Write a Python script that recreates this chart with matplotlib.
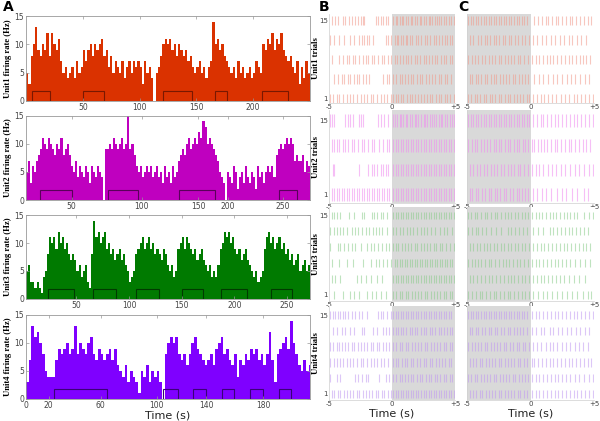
import matplotlib
matplotlib.use('Agg')
import matplotlib.pyplot as plt
from matplotlib.patches import Rectangle
import numpy as np

# ---------------- data ----------------
BIN = 2  # seconds per histogram bin

unit1_rate = [5, 3, 8, 10, 13, 9, 8, 10, 9, 12, 8, 12, 10, 9, 11, 7, 5, 6, 4, 5,
              6, 4, 7, 5, 6, 9, 7, 9, 10, 8, 10, 9, 10, 11, 8, 9, 6, 8, 5, 7,
              6, 5, 7, 4, 6, 7, 5, 7, 6, 7, 6, 3, 7, 5, 6, 4, 0, 5, 6, 8,
              10, 11, 10, 11, 9, 10, 8, 10, 9, 8, 9, 7, 8, 6, 5, 6, 7, 5, 6, 4,
              6, 7, 14, 10, 11, 9, 10, 8, 7, 6, 5, 6, 4, 7, 5, 6, 4, 5, 6, 4,
              5, 7, 6, 5, 10, 9, 11, 10, 12, 9, 11, 10, 12, 9, 8, 7, 8, 6, 5, 7,
              3, 6, 4, 7, 5]
unit2_rate = [5, 7, 3, 6, 5, 7, 8, 9, 11, 10, 9, 11, 10, 9, 8, 10, 9, 11, 8, 9,
              10, 8, 6, 5, 7, 4, 6, 5, 4, 6, 5, 3, 6, 5, 4, 6, 5, 4, 0, 9,
              9, 10, 9, 11, 10, 9, 10, 11, 9, 10, 15, 9, 10, 8, 6, 5, 6, 4, 5, 6,
              5, 6, 4, 5, 6, 4, 5, 3, 6, 4, 5, 3, 6, 4, 5, 7, 8, 9, 8, 10,
              11, 9, 10, 11, 10, 12, 11, 14, 13, 10, 11, 10, 9, 8, 7, 5, 4, 3, 0, 5,
              4, 3, 6, 5, 2, 4, 5, 3, 6, 4, 3, 5, 4, 2, 6, 4, 5, 3, 5, 6,
              5, 6, 4, 8, 9, 10, 9, 10, 11, 10, 11, 10, 7, 8, 7, 7, 8, 5, 7, 6]
unit3_rate = [6, 5, 6, 3, 3, 2, 3, 2, 1, 4, 5, 8, 11, 10, 11, 9, 12, 10, 11, 9,
              10, 8, 7, 8, 7, 5, 6, 4, 5, 6, 3, 2, 8, 14, 11, 12, 10, 11, 12, 9,
              10, 8, 9, 7, 8, 9, 7, 8, 6, 5, 3, 4, 5, 8, 9, 10, 11, 9, 10, 11,
              9, 10, 8, 9, 8, 7, 9, 8, 6, 5, 6, 4, 5, 9, 10, 11, 9, 11, 10, 9,
              8, 9, 7, 8, 9, 7, 6, 5, 6, 4, 5, 4, 6, 9, 10, 12, 11, 12, 10, 11,
              9, 8, 9, 7, 8, 9, 7, 6, 5, 4, 5, 3, 4, 5, 9, 11, 12, 10, 11, 9,
              10, 11, 9, 10, 8, 9, 7, 8, 6, 7, 8, 5, 6, 7, 5, 6]
unit4_rate = [3, 7, 13, 11, 12, 10, 8, 5, 4, 4, 4, 7, 9, 8, 9, 10, 8, 9, 13, 8,
              10, 9, 8, 10, 11, 8, 7, 9, 8, 7, 8, 9, 7, 9, 6, 5, 4, 6, 3, 5,
              4, 3, 1, 5, 4, 6, 3, 5, 4, 5, 3, 0, 8, 10, 11, 10, 11, 8, 7, 8,
              6, 8, 10, 11, 9, 8, 7, 6, 7, 8, 6, 9, 10, 11, 8, 9, 7, 6, 8, 4,
              7, 6, 8, 7, 9, 8, 9, 7, 8, 6, 8, 12, 7, 3, 8, 9, 10, 11, 9, 14,
              10, 8, 6, 5, 7, 5, 6]

# stimulus windows (start, end) in seconds
unit1_windows = [(5, 21), (50, 69), (121, 146), (166, 177), (208, 231)]
unit2_windows = [(14, 45), (81, 110), (151, 186), (249, 267)]
unit3_windows = [(23, 48), (66, 88), (107, 128), (150, 170), (187, 212), (235, 255)]
unit4_windows = [(21, 61), (103, 114), (125, 135), (147, 156), (168, 178), (190, 199)]

# x tick positions / labels for the histograms
unit1_ticks, unit1_ticklabels = [50, 100, 150, 200], ['50', '100', '150', '200']
unit2_ticks, unit2_ticklabels = [45, 114, 170, 199, 253], ['50', '100', '150', '200', '250']
unit3_ticks, unit3_ticklabels = [50, 100, 150, 200, 250], ['50', '100', '150', '200', '250']
unit4_ticks, unit4_ticklabels = [0, 17, 56, 98, 135, 178], ['0', '20', '60', '100', '140', '180']
hist_xlims = [(0, 250), (0, 280), (2, 272), (0, 213)]

# raster rows (trial positions) and spike times (s, relative to onset)
unit1_rows = [15, 11.5, 8, 4.5, 1]
unit2_rows = [15, 10.33, 5.67, 1]
unit3_rows = [15, 12.2, 9.4, 6.6, 3.8, 1]
unit4_rows = [15, 12.2, 9.4, 6.6, 3.8, 1]

unit1_B = [
 [-4.8,-4.5,-4.3,-3.9,-3.7,-3.4,-3.2,-2.9,-2.7,-2.5,-2.3,-2.2,-1.3,-1.1,-0.9,-0.7,-0.5,-0.3,0.1,0.3,0.4,0.6,0.8,0.9,1.1,1.3,1.5,1.6,1.8,2.0,2.2,2.3,2.5,2.7,2.9,3.0,3.2,3.4,3.6,3.7,3.9,4.1,4.3,4.5,4.7,4.9],
 [-4.9,-4.6,-4.2,-3.8,-3.3,-3.0,-2.6,-2.4,-2.2,-2.0,-1.8,-1.5,-0.5,-0.3,-0.1,0.2,0.4,0.5,0.7,0.9,1.1,1.2,1.4,1.6,1.9,2.1,2.3,2.6,2.8,3.0,3.3,3.5,3.7,4.0,4.2,4.4,4.6,4.8],
 [-4.8,-4.2,-3.9,-3.6,-3.4,-3.1,-2.9,-2.6,-2.3,-2.1,-1.9,-1.6,-1.4,-1.1,-0.8,-0.6,-0.3,-0.1,0.2,0.4,0.6,0.9,1.1,1.3,1.5,1.8,2.0,2.2,2.5,2.7,2.9,3.2,3.4,3.6,3.9,4.1,4.3,4.6,4.8],
 [-4.6,-4.3,-4.0,-3.8,-3.5,-3.3,-3.0,-2.8,-2.6,-2.3,-2.1,-1.8,-0.7,-0.4,-0.2,0.1,0.3,0.6,0.8,1.0,1.3,1.5,1.7,2.0,2.2,2.4,2.7,2.9,3.2,3.4,3.7,3.9,4.2,4.4,4.7],
 [-4.9,-4.7,-4.4,-4.2,-3.9,-3.6,-3.3,-3.1,-2.8,-2.5,-2.2,-2.0,-1.7,-1.5,-1.2,-0.9,-0.6,-0.4,-0.1,0.1,0.3,0.5,0.7,0.9,1.2,1.4,1.6,1.8,2.1,2.3,2.5,2.8,3.0,3.2,3.5,3.7,3.9,4.2,4.4,4.6,4.9],
]
unit1_C = [
 [-4.9,-4.7,-4.5,-4.3,-4.1,-3.9,-3.7,-3.5,-3.3,-3.1,-2.9,-2.7,-2.5,-2.3,-2.1,-1.9,-1.7,-1.5,-1.3,-1.1,-0.9,-0.7,-0.5,-0.3,0.3,0.6,0.9,1.2,1.4,1.7,2.0,2.2,2.5,2.8,3.1,3.3,3.6,3.9,4.2,4.5,4.8],
 [-4.8,-4.5,-4.1,-3.9,-3.6,-3.4,-3.2,-2.9,-2.7,-2.5,-2.2,-2.0,-1.7,-1.5,-1.2,-1.0,-0.7,-0.4,-0.1,0.2,0.5,0.9,1.2,1.6,1.9,2.3,2.6,3.0,3.3,3.7,4.0,4.4],
 [-4.9,-4.6,-4.4,-4.1,-3.8,-3.6,-3.3,-3.0,-2.8,-2.5,-2.3,-2.0,-1.8,-1.5,-1.3,-1.0,-0.8,-0.5,-0.2,0.1,0.4,0.7,1.0,1.3,1.5,1.8,2.1,2.4,2.7,3.0,3.3,3.6,3.9,4.1,4.4,4.7],
 [-4.8,-4.6,-4.3,-4.1,-3.9,-3.6,-3.4,-3.1,-2.9,-2.7,-2.4,-2.2,-1.9,-1.7,-1.4,-1.2,-0.9,-0.7,-0.4,-0.2,0.3,0.7,1.0,1.4,1.8,2.1,2.5,2.9,3.2,3.5,3.9,4.3,4.6],
 [-4.9,-4.7,-4.4,-4.2,-4.0,-3.7,-3.5,-3.2,-3.0,-2.8,-2.5,-2.3,-2.0,-1.8,-1.6,-1.3,-1.1,-0.8,-0.6,-0.3,-0.1,0.2,0.5,0.8,1.1,1.4,1.7,2.0,2.4,2.7,3.0,3.4,3.7,4.0,4.3,4.6,4.9],
]
unit2_B = [
 [-4.9,-4.8,-4.6,-3.7,-3.5,-3.3,-3.1,-2.6,-2.5,-2.3,-1.1,-0.9,-0.6,-0.3,0.1,0.2,0.4,0.6,0.7,0.9,1.1,1.2,1.4,1.6,1.8,1.9,2.1,2.3,2.5,2.6,2.8,3.0,3.2,3.3,3.5,3.7,3.9,4.0,4.2,4.4,4.6,4.8,4.9],
 [-4.8,-4.6,-4.4,-4.2,-3.9,-3.7,-3.5,-3.2,-3.0,-2.7,-2.4,-2.2,-1.9,-1.6,-1.4,-1.0,-0.7,-0.4,-0.2,0.1,0.3,0.5,0.7,0.9,1.1,1.3,1.5,1.7,1.9,2.1,2.3,2.5,2.7,2.9,3.1,3.3,3.5,3.7,3.9,4.1,4.3,4.5,4.7,4.9],
 [-4.7,-4.6,-2.6,-1.9,-1.6,-1.4,-1.2,-0.9,-0.7,-0.5,-0.3,0.1,0.3,0.5,0.7,0.9,1.1,1.3,1.5,1.7,1.9,2.1,2.3,2.5,2.7,2.9,3.1,3.3,3.5,3.7,3.9,4.1,4.3,4.5,4.7,4.9],
 [-4.8,-4.6,-4.4,-4.2,-4.0,-3.8,-3.6,-3.4,-3.2,-3.0,-2.8,-2.6,-2.4,-2.2,-2.0,-1.8,-1.6,-1.4,-1.2,-1.0,-0.8,-0.6,-0.4,-0.2,0.1,0.3,0.5,0.7,0.9,1.1,1.3,1.5,1.7,1.9,2.1,2.3,2.5,2.7,2.9,3.1,3.3,3.5,3.7,3.9,4.1,4.3,4.5,4.7,4.9],
]
unit2_C = [
 [-4.9,-4.7,-4.5,-4.3,-4.1,-3.9,-3.7,-3.5,-3.3,-3.1,-2.9,-2.7,-2.5,-2.3,-2.1,-1.9,-1.7,-1.5,-1.3,-1.1,-0.9,-0.7,-0.5,-0.3,-0.1,0.2,0.5,0.8,1.0,1.3,1.6,1.9,2.2,2.5,2.8,3.1,3.4,3.7,4.0,4.3,4.6,4.9],
 [-4.9,-4.6,-4.4,-4.2,-3.9,-3.7,-3.4,-3.2,-2.9,-2.7,-2.5,-2.3,-2.0,-1.8,-1.6,-1.3,-1.1,-0.9,-0.6,-0.4,-0.2,0.1,0.3,0.6,0.8,1.1,1.3,1.6,1.9,2.1,2.4,2.7,3.0,3.2,3.5,3.8,4.1,4.4,4.7],
 [-4.8,-4.5,-4.2,-4.0,-3.7,-3.4,-3.1,-2.9,-2.6,-2.3,-2.1,-1.8,-1.5,-1.3,-1.0,-0.8,-0.5,-0.2,0.1,0.4,0.7,1.0,1.4,1.7,2.0,2.4,2.7,3.1,3.5,3.8,4.2,4.6,4.9],
 [-4.8,-4.6,-4.3,-4.1,-3.8,-3.6,-3.3,-3.1,-2.8,-2.6,-2.4,-2.1,-1.9,-1.6,-1.4,-1.1,-0.9,-0.7,-0.4,-0.2,0.2,0.5,0.9,1.2,1.6,2.1,2.5,2.8,3.3,3.7,4.2,4.5],
]
unit3_B = [
 [-4.8,-4.6,-4.4,-4.1,-3.4,-3.0,-2.4,-2.2,-1.6,-1.4,-1.2,-0.9,-0.7,-0.4,0.1,0.3,0.5,0.7,0.9,1.1,1.3,1.5,1.7,1.9,2.1,2.3,2.5,2.7,2.9,3.1,3.3,3.5,3.7,3.9,4.1,4.3,4.5,4.7,4.9],
 [-4.9,-4.6,-4.4,-4.1,-3.9,-3.6,-3.2,-2.9,-2.7,-2.4,-2.1,-1.8,-1.5,-1.3,-1.0,-0.8,-0.4,0.1,0.3,0.6,0.9,1.2,1.4,1.7,2.0,2.3,2.5,2.8,3.1,3.4,3.8,4.1,4.4,4.8],
 [-4.9,-4.3,-4.1,-3.8,-3.5,-3.2,-2.9,-2.5,-2.0,-1.7,-1.4,-1.1,-0.8,-0.5,-0.2,0.1,0.3,0.5,0.8,1.0,1.3,1.5,1.8,2.0,2.3,2.5,2.8,3.0,3.3,3.5,3.8,4.0,4.3,4.6,4.9],
 [-4.8,-4.2,-3.6,-3.1,-2.3,-1.7,-1.3,-1.0,-0.7,-0.4,-0.1,0.2,0.4,0.6,0.8,1.0,1.2,1.4,1.6,1.8,2.0,2.2,2.4,2.6,2.8,3.0,3.2,3.4,3.6,3.8,4.0,4.2,4.4,4.6,4.8],
 [-4.8,-4.5,-4.1,-2.8,-2.5,-2.1,-1.7,-1.2,-0.8,0.1,0.3,0.5,0.7,0.9,1.1,1.3,1.5,1.7,1.9,2.1,2.3,2.5,2.7,2.9,3.1,3.3,3.5,3.7,3.9,4.1,4.3,4.5,4.7,4.9],
 [-4.6,-3.9,-3.3,-3.0,-2.6,-2.0,-1.6,-1.3,-0.9,-0.5,0.1,0.3,0.6,0.8,1.1,1.3,1.6,1.8,2.1,2.3,2.6,2.8,3.1,3.3,3.6,3.8,4.1,4.3,4.6,4.8],
]
unit3_C = [
 [-4.9,-4.7,-4.4,-4.2,-3.9,-3.6,-3.4,-3.1,-2.8,-2.6,-2.3,-2.0,-1.8,-1.5,-1.2,-1.0,-0.7,-0.4,-0.2,0.1,0.4,0.7,0.9,1.2,1.5,1.8,2.0,2.3,2.6,2.9,3.1,3.4,3.7,4.2,4.6,4.9],
 [-4.9,-4.6,-4.3,-4.1,-3.8,-3.5,-3.1,-2.7,-2.3,-1.8,-1.5,-1.2,-0.9,-0.6,-0.3,0.2,0.6,1.0,1.5,1.8,2.1,2.4,2.7,3.0,3.3,3.6,3.9,4.2,4.5],
 [-4.8,-4.5,-4.2,-4.0,-3.7,-3.4,-3.2,-2.9,-2.6,-2.3,-2.1,-1.8,-1.5,-1.2,-1.0,-0.7,-0.4,-0.1,0.2,0.5,0.8,1.1,1.4,1.7,2.0,2.3,2.6,2.9,3.2,3.5,3.8,4.1,4.4,4.7],
 [-4.9,-4.6,-4.4,-4.1,-3.9,-3.6,-3.3,-3.1,-2.8,-2.5,-2.2,-1.9,-1.7,-1.4,-1.1,-0.8,-0.5,-0.2,0.1,0.4,0.7,1.0,1.3,1.6,1.9,2.2,2.5,2.8,3.1,3.5,3.9,4.3,4.7],
 [-4.8,-4.5,-4.2,-3.9,-3.6,-3.3,-3.0,-2.7,-2.4,-2.1,-1.8,-1.5,-1.3,-1.0,-0.7,-0.4,-0.1,0.2,0.5,0.8,1.1,1.4,1.7,2.0,2.3,2.6,3.0,3.4,3.8,4.3],
 [-4.9,-4.6,-4.3,-4.0,-3.8,-3.5,-3.2,-2.9,-2.7,-2.4,-2.1,-1.8,-1.6,-1.3,-1.0,-0.7,-0.4,-0.1,0.2,0.6,1.0,1.3,1.7,2.1,2.5,2.9,3.3,3.7,4.1,4.5,4.8],
]
unit4_B = [
 [-4.9,-4.7,-4.5,-4.3,-4.1,-3.9,-3.7,-3.5,-3.2,-2.9,-2.6,-2.4,-2.0,-1.1,-0.9,-0.7,-0.4,-0.1,0.1,0.3,0.5,0.7,0.9,1.1,1.3,1.5,1.7,1.9,2.1,2.3,2.5,2.7,2.9,3.1,3.3,3.5,3.7,3.9,4.1,4.3,4.5,4.7],
 [-4.7,-4.4,-4.0,-3.7,-3.3,-3.0,-2.4,-2.2,-1.5,-1.2,-0.7,-0.5,-0.2,0.1,0.3,0.5,0.7,0.9,1.1,1.4,1.6,1.8,2.0,2.3,2.5,2.7,3.0,3.2,3.4,3.7,3.9,4.1,4.4,4.6,4.8],
 [-4.9,-4.7,-4.4,-4.2,-4.0,-3.7,-3.5,-3.2,-3.0,-2.7,-2.5,-2.2,-2.0,-1.7,-1.5,-1.2,-1.0,-0.7,-0.5,-0.2,0.1,0.3,0.6,0.8,1.1,1.3,1.6,1.8,2.1,2.3,2.6,2.8,3.1,3.3,3.6,3.8,4.1,4.3,4.6,4.8],
 [-4.9,-4.6,-4.4,-4.1,-3.9,-3.6,-3.3,-3.1,-2.8,-2.5,-2.3,-2.0,-1.7,-1.4,-1.2,-0.9,-0.6,-0.3,0.1,0.3,0.5,0.8,1.0,1.2,1.5,1.7,2.0,2.2,2.5,2.7,3.0,3.2,3.5,3.7,4.0,4.2,4.5,4.7],
 [-4.9,-4.4,-4.1,-2.9,-2.7,-2.4,-2.1,-1.9,-1.0,-0.5,-0.2,0.1,0.3,0.6,0.8,1.0,1.3,1.5,1.7,2.0,2.2,2.4,2.7,2.9,3.1,3.4,3.6,3.8,4.1,4.3,4.6,4.8],
 [-4.8,-4.6,-4.3,-4.1,-3.8,-3.6,-3.3,-3.1,-2.8,-2.6,-2.3,-2.1,-1.8,-1.6,-1.3,-1.1,-0.8,-0.6,-0.3,-0.1,0.1,0.3,0.5,0.7,0.9,1.1,1.3,1.5,1.7,1.9,2.1,2.3,2.5,2.7,2.9,3.1,3.3,3.5,3.7,3.9,4.1,4.3,4.5,4.7,4.9],
]
unit4_C = [
 [-4.9,-4.7,-4.5,-4.3,-4.1,-3.9,-3.7,-3.5,-3.3,-3.1,-2.9,-2.7,-2.5,-2.3,-2.1,-1.9,-1.7,-1.5,-1.3,-1.1,-0.9,-0.7,-0.5,-0.3,0.1,0.4,0.7,1.0,1.3,1.6,1.9,2.2,2.5,2.8,3.1,3.4,3.7,4.0,4.3,4.6,4.9],
 [-4.8,-4.6,-4.3,-4.1,-3.8,-3.6,-3.3,-3.1,-2.8,-2.6,-2.3,-2.1,-1.8,-1.6,-1.3,-1.1,-0.8,-0.6,-0.3,0.1,0.4,0.8,1.1,1.5,1.8,2.2,2.5,2.9,3.2,3.6,3.9,4.3,4.6],
 [-4.9,-4.6,-4.4,-4.1,-3.9,-3.6,-3.4,-3.1,-2.9,-2.6,-2.4,-2.1,-1.9,-1.6,-1.4,-1.1,-0.9,-0.6,-0.4,-0.1,0.2,0.5,0.8,1.2,1.5,1.8,2.1,2.5,2.8,3.1,3.5,3.8,4.1,4.5],
 [-4.8,-4.5,-4.3,-4.0,-3.8,-3.5,-3.3,-3.0,-2.8,-2.5,-2.3,-2.0,-1.8,-1.5,-1.3,-1.0,-0.8,-0.5,-0.3,0.1,0.3,0.6,0.9,1.2,1.5,1.8,2.1,2.4,2.7,3.0,3.3,3.6,3.9,4.2,4.5,4.8],
 [-4.9,-4.7,-4.4,-4.2,-3.9,-3.7,-3.4,-3.2,-2.9,-2.7,-2.4,-2.2,-1.9,-1.7,-1.4,-1.2,-0.9,-0.7,-0.4,-0.2,0.1,0.4,0.7,1.0,1.3,1.6,1.9,2.2,2.5,2.8,3.1,3.5,3.8,4.2,4.6,4.9],
 [-4.8,-4.5,-4.3,-4.0,-3.8,-3.5,-3.3,-3.0,-2.8,-2.5,-2.3,-2.0,-1.8,-1.5,-1.3,-1.0,-0.8,-0.5,-0.3,0.1,0.4,0.7,1.0,1.3,1.6,1.9,2.2,2.5,2.8,3.1,3.4,3.7,4.0,4.3,4.6,4.9],
]

unit_names = ['Unit1', 'Unit2', 'Unit3', 'Unit4']

# ---------------- styles ----------------
hist_colors = ['#da3200', '#bf00bf', '#007a00', '#7f00ff']
window_colors = ['#7a1800', '#5a005a', '#003a00', '#3a0078']
raster_colors = ['#f29a8c', '#f08cf0', '#8ccc8c', '#c099f2']
raster_heights = [1.7, 2.4, 1.4, 1.5]
raster_ylims = [(0.2, 16.2), (-0.6, 17.0), (-0.1, 16.5), (-0.1, 16.6)]
SHADE = '#d9d9d9'
TICKC = '#444444'
SPINEC = '#999999'

W, H = 600, 421
fig = plt.figure(figsize=(6, 4.21), dpi=100)


def box(l, t, r, b):
    return [l / W, 1 - b / H, (r - l) / W, (b - t) / H]


serif_bold = dict(family='Liberation Serif', weight='bold')
tick_font = 'DejaVu Sans'

hist_boxes = [(26, 16, 310, 101), (26, 115.5, 310, 200), (26, 215, 310, 299), (26, 315, 310, 399)]
rasterB_boxes = [(329, 14, 455, 103), (329, 110, 455, 203), (329, 207, 455, 301), (329, 306, 455, 400)]
rasterC_boxes = [(467, 14, 594, 103), (467, 110, 594, 203), (467, 207, 594, 301), (467, 306, 594, 400)]

rates = [unit1_rate, unit2_rate, unit3_rate, unit4_rate]
windows = [unit1_windows, unit2_windows, unit3_windows, unit4_windows]
ticks = [(unit1_ticks, unit1_ticklabels), (unit2_ticks, unit2_ticklabels),
         (unit3_ticks, unit3_ticklabels), (unit4_ticks, unit4_ticklabels)]
rows = [unit1_rows, unit2_rows, unit3_rows, unit4_rows]
spikesB = [unit1_B, unit2_B, unit3_B, unit4_B]
spikesC = [unit1_C, unit2_C, unit3_C, unit4_C]

for i in range(4):
    ax = fig.add_axes(box(*hist_boxes[i]))
    v = np.array(rates[i], dtype=float)
    t = np.arange(len(v)) * BIN
    ax.bar(t, v, width=BIN, align='edge', color=hist_colors[i], linewidth=0)
    for (s, e) in windows[i]:
        ax.add_patch(Rectangle((s, 0), e - s, 1.7, fill=False,
                               edgecolor=window_colors[i], linewidth=0.8))
    ax.set_xlim(*hist_xlims[i])
    ax.set_ylim(0, 15)
    ax.set_yticks([0, 5, 10, 15])
    ax.set_xticks(ticks[i][0])
    ax.set_xticklabels(ticks[i][1])
    ax.tick_params(direction='in', length=2, width=0.5, colors=SPINEC,
                   labelcolor=TICKC, labelsize=5.5, pad=1.5, top=True, right=True)
    for sp in ax.spines.values():
        sp.set_color(SPINEC)
        sp.set_linewidth(0.6)
    l, t_, r, b = hist_boxes[i]
    fig.text(8 / W, 1 - ((t_ + b) / 2) / H, unit_names[i] + ' firing rate (Hz)',
             rotation=90, ha='center', va='center', fontsize=6.2, **serif_bold)
    if i == 3:
        ax.set_xlabel('Time (s)', fontsize=8, labelpad=0, family=tick_font, color='#222222')

for col, (boxes, spikes, shade) in enumerate([(rasterB_boxes, spikesB, (0, 5)),
                                              (rasterC_boxes, spikesC, (-5, 0))]):
    for i in range(4):
        ax = fig.add_axes(box(*boxes[i]))
        ax.axvspan(shade[0], shade[1], color=SHADE, linewidth=0, zorder=0)
        ax.eventplot(spikes[i], lineoffsets=rows[i], linelengths=raster_heights[i],
                     colors=raster_colors[i], linewidths=0.8, alpha=0.55, zorder=2)
        ax.set_xlim(-5, 5)
        ax.set_ylim(*raster_ylims[i])
        ax.set_xticks([-5, 0, 5])
        ax.set_xticklabels(['-5', '0', '+5'])
        if col == 0:
            ax.set_yticks([1, 15])
            l, t_, r, b = boxes[i]
            fig.text(316 / W, 1 - ((t_ + b) / 2) / H, unit_names[i] + ' trials',
                     rotation=90, ha='center', va='center', fontsize=6.2, **serif_bold)
        else:
            ax.set_yticks([])
        ax.tick_params(length=0, labelsize=5, colors=TICKC, pad=1)
        for name, sp in ax.spines.items():
            if name in ('left', 'bottom'):
                sp.set_color('#cfcfcf')
                sp.set_linewidth(0.5)
            else:
                sp.set_visible(False)
        if i == 3:
            ax.set_xlabel('Time (s)', fontsize=8, labelpad=1, family=tick_font, color='#222222')

fig.text(3 / W, 1 - 11 / H, 'A', fontsize=10, weight='bold', family='DejaVu Sans')
fig.text(319 / W, 1 - 11 / H, 'B', fontsize=10, weight='bold', family='DejaVu Sans')
fig.text(458 / W, 1 - 11 / H, 'C', fontsize=10, weight='bold', family='DejaVu Sans')

fig.savefig('out.png', dpi=100)
